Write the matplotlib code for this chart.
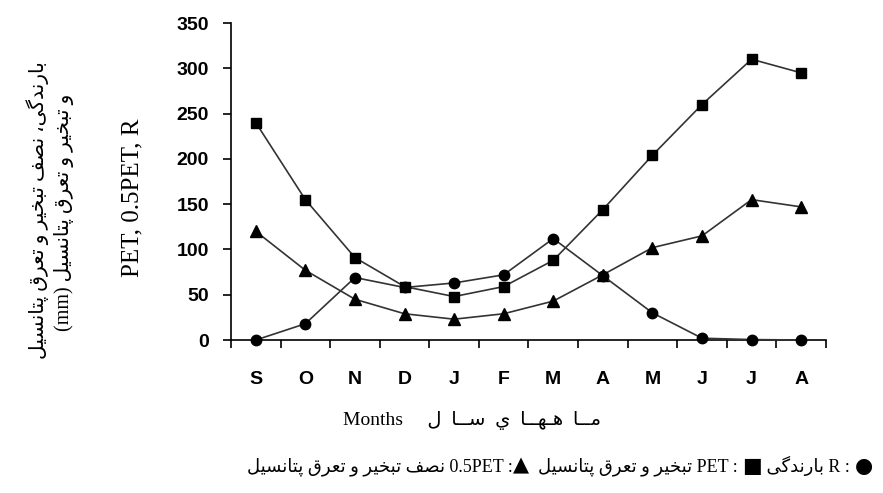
import numpy as np
import matplotlib
matplotlib.use("Agg")
import matplotlib.pyplot as plt
from matplotlib.offsetbox import TextArea, HPacker, AnchoredOffsetbox

# data
months = ['S', 'O', 'N', 'D', 'J', 'F', 'M', 'A', 'M', 'J', 'J', 'A']
pet = [240, 155, 91, 59, 48, 59, 88, 144, 204, 260, 310, 295]
half_pet = [120, 77, 45, 29, 23, 29, 43, 72, 102, 115, 155, 147]
rain = [0, 18, 69, 58, 63, 72, 112, 71, 30, 2, 0.5, 0]
yticks = [0, 50, 100, 150, 200, 250, 300, 350]

# simple arabic/persian shaping (matplotlib has no bidi)
# char: (isolated, final, initial, medial)
FORMS = {
    '\u0627': ('\uFE8D', '\uFE8E', None, None),
    '\u0628': ('\uFE8F', '\uFE90', '\uFE91', '\uFE92'),
    '\u067E': ('\uFB56', '\uFB57', '\uFB58', '\uFB59'),
    '\u062A': ('\uFE95', '\uFE96', '\uFE97', '\uFE98'),
    '\u062E': ('\uFEA5', '\uFEA6', '\uFEA7', '\uFEA8'),
    '\u062F': ('\uFEA9', '\uFEAA', None, None),
    '\u0631': ('\uFEAD', '\uFEAE', None, None),
    '\u0633': ('\uFEB1', '\uFEB2', '\uFEB3', '\uFEB4'),
    '\u0635': ('\uFEB9', '\uFEBA', '\uFEBB', '\uFEBC'),
    '\u0639': ('\uFEC9', '\uFECA', '\uFECB', '\uFECC'),
    '\u0641': ('\uFED1', '\uFED2', '\uFED3', '\uFED4'),
    '\u0642': ('\uFED5', '\uFED6', '\uFED7', '\uFED8'),
    '\u06AF': ('\uFB92', '\uFB93', '\uFB94', '\uFB95'),
    '\u0644': ('\uFEDD', '\uFEDE', '\uFEDF', '\uFEE0'),
    '\u0645': ('\uFEE1', '\uFEE2', '\uFEE3', '\uFEE4'),
    '\u0646': ('\uFEE5', '\uFEE6', '\uFEE7', '\uFEE8'),
    '\u0647': ('\uFEE9', '\uFEEA', '\uFEEB', '\uFEEC'),
    '\u0648': ('\uFEED', '\uFEEE', None, None),
    '\u064A': ('\uFEF1', '\uFEF2', '\uFEF3', '\uFEF4'),
    '\u06CC': ('\uFBFC', '\uFBFD', '\uFBFE', '\uFBFF'),
    '\u0640': ('\u0640', '\u0640', '\u0640', '\u0640'),
}


def dual(c):
    return c in FORMS and FORMS[c][2] is not None


def shape(text):
    out = []
    for i, c in enumerate(text):
        if c not in FORMS:
            out.append(c)
            continue
        prev = text[i - 1] if i > 0 else ''
        nxt = text[i + 1] if i + 1 < len(text) else ''
        jp = dual(prev)
        jn = dual(c) and nxt in FORMS
        f = FORMS[c]
        if jp and jn:
            out.append(f[3])
        elif jp:
            out.append(f[1])
        elif jn:
            out.append(f[2])
        else:
            out.append(f[0])
    return ''.join(out[::-1])


serif = ['Liberation Serif', 'DejaVu Sans']

fig = plt.figure(figsize=(8.83, 4.93), dpi=100)
ax = fig.add_axes([0.2616, 0.3103, 0.6738, 0.643])

x = np.arange(len(months))
line_kw = dict(color='#333333', lw=1.2, markerfacecolor='black',
               markeredgecolor='black', clip_on=False, zorder=3)
ax.plot(x, pet, marker='s', markersize=7.5, **line_kw)
ax.plot(x, half_pet, marker='^', markersize=8.5, **line_kw)
ax.plot(x, rain, marker='o', markersize=7.5, **line_kw)

ax.set_xlim(-0.5, 11.5)
ax.set_ylim(0, 350)
ax.set_yticks(yticks)
ax.set_xticks(x)
ax.set_xticklabels(months)
ax.set_xticks(np.arange(-0.5, 12, 1), minor=True)
ax.tick_params(axis='x', which='major', length=0, pad=22)
ax.tick_params(axis='x', which='minor', length=6, width=1.2, direction='out')
ax.tick_params(axis='y', length=6, width=1.2, direction='out', pad=10)
for lab in ax.get_xticklabels() + ax.get_yticklabels():
    lab.set_fontfamily('Liberation Sans')
    lab.set_fontweight('bold')
    lab.set_fontsize(14)

for s in ['top', 'right']:
    ax.spines[s].set_visible(False)
for s in ['left', 'bottom']:
    ax.spines[s].set_linewidth(1.2)

# y-axis labels (three rotated lines)
fig.text(38 / 883, 1 - 210 / 493, shape('بارندگی، نصف تبخیر و تعرق پتانسیل'),
         rotation=90, ha='center', va='center', fontsize=14.5, family=serif)
fig.text(64 / 883, 1 - 212 / 493, '(mm) ' + shape('و تبخیر و تعرق پتانسیل'),
         rotation=90, ha='center', va='center', fontsize=14.5, family=serif)
fig.text(132 / 883, 1 - 198 / 493, 'PET, 0.5PET, R',
         rotation=90, ha='center', va='center', fontsize=18, family=serif)

# x-axis label
fig.text(472 / 883, 1 - 420 / 493, 'Months     ' + shape('مــا  هـهــا  ي  ســا  ل'),
         ha='center', va='center', fontsize=14, family=serif)

# legend line, pieces in visual (left to right) order, bigger marker glyphs
txt = dict(fontsize=13, family=serif)
mk = dict(fontsize=15, family='DejaVu Sans')
pieces = [
    TextArea(shape('نصف تبخیر و تعرق پتانسیل') + ' 0.5PET :', textprops=txt),
    TextArea('\u25B2', textprops=mk),
    TextArea('  ' + shape('تبخیر و تعرق پتانسیل') + ' PET : ', textprops=txt),
    TextArea('\u25A0', textprops=mk),
    TextArea(' ' + shape('بارندگی') + ' R : ', textprops=txt),
    TextArea('\u25CF', textprops=mk),
]
row = HPacker(children=pieces, align='baseline', pad=0, sep=0)
box = AnchoredOffsetbox(loc='center', child=row, frameon=False, pad=0,
                        borderpad=0, bbox_to_anchor=(560 / 883, 1 - 466 / 493),
                        bbox_transform=fig.transFigure)
fig.add_artist(box)

fig.savefig('out.png', dpi=100)
